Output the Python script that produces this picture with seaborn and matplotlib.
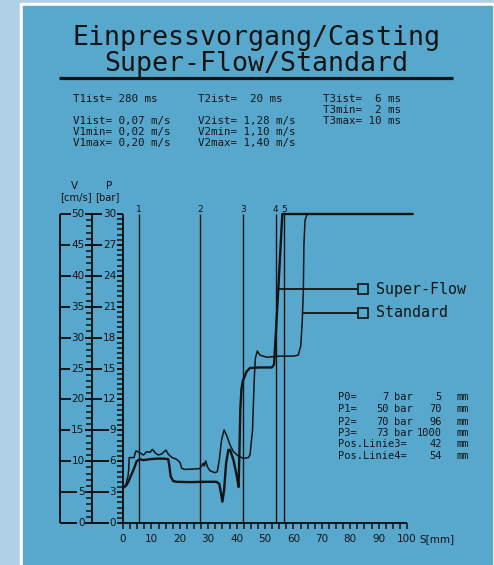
import matplotlib
matplotlib.use("Agg")
import matplotlib.pyplot as plt
import seaborn as sns
import pandas as pd
import numpy as np
from matplotlib.patches import Rectangle

# ---------------- data ----------------
sf_s = [0, 1.0, 1.9, 2.8, 3.6, 4.3, 4.8, 5.9, 7.2, 9.5, 11.9, 14.2, 15.9, 16.3, 16.8, 17.7,
        18.9, 23.6, 28.3, 32.9, 33.9, 34.5, 35.0, 35.6, 36.3, 37.1, 37.7, 38.9, 40.0, 40.7,
        41.0, 41.3, 41.7, 42.2, 42.8, 43.5, 44.7, 48.0, 52.4, 53.2, 54.7, 56.1, 102.0]
sf_p = [3.4, 3.6, 4.0, 4.6, 5.1, 5.6, 6.0, 6.2, 6.1, 6.2, 6.25, 6.25, 6.2, 5.6, 4.5, 4.07,
        4.0, 3.97, 4.0, 4.0, 3.8, 2.9, 2.07, 3.2, 5.8, 7.1, 7.1, 6.1, 4.66, 3.5,
        7.0, 11.0, 13.0, 13.8, 14.2, 14.7, 15.05, 15.1, 15.1, 15.4, 22.8, 30.0, 30.0]

st_s = [0, 1.0, 1.8, 2.0, 2.2, 3.9, 4.3, 4.6, 5.9, 7.2, 8.3, 9.5, 10.4, 11.3, 12.4, 13.6,
        15.1, 15.9, 17.1, 18.9, 20.1, 20.7, 21.8, 24.8, 26.9, 27.7, 28.3, 28.6, 29.1, 29.7,
        30.6, 32.4, 33.2, 33.9, 34.7, 35.6, 36.5, 37.7, 38.9, 40.6, 42.4, 44.1, 44.7, 45.6,
        46.2, 46.6, 47.3, 48.2, 50.6, 55.3, 60.0, 61.7, 62.6, 63.1, 63.5, 63.7, 64.1, 64.8,
        65.5, 102.0]
st_p = [3.4, 3.7, 4.6, 5.2, 6.35, 6.35, 6.8, 7.0, 6.82, 6.6, 6.92, 6.86, 7.15, 6.82, 6.6, 6.7,
        7.08, 6.7, 6.38, 6.18, 5.86, 5.3, 5.2, 5.24, 5.27, 5.53, 5.8, 5.53, 6.02, 5.47,
        5.08, 4.88, 4.98, 6.1, 8.06, 9.03, 8.5, 7.57, 6.92, 6.5, 6.27, 6.35, 6.6, 9.0,
        13.9, 16.0, 16.7, 16.3, 16.1, 16.2, 16.2, 16.3, 17.2, 19.5, 22.6, 27.0, 29.4, 29.95,
        30.0, 30.0]

marker_pos = [5.5, 27.1, 42.3, 53.8, 56.8]
marker_labels = ["1", "2", "3", "4", "5"]
x_ticks = list(range(0, 101, 10))
p_ticks = list(range(0, 31, 3))
v_ticks = list(range(0, 51, 5))
legend_names = ["Super-Flow", "Standard"]
legend_attach_s = [54.7, 63.2]
legend_attach_p = [22.7, 20.4]

title1 = "Einpressvorgang/Casting"
title2 = "Super-Flow/Standard"
params_col1 = ["T1ist= 280 ms", "", "V1ist= 0,07 m/s", "V1min= 0,02 m/s", "V1max= 0,20 m/s"]
params_col2 = ["T2ist=  20 ms", "", "V2ist= 1,28 m/s", "V2min= 1,10 m/s", "V2max= 1,40 m/s"]
params_col3 = ["T3ist=  6 ms", "T3min=  2 ms", "T3max= 10 ms", "", ""]
pos_labels = ["P0=", "P1=", "P2=", "P3=", "Pos.Linie3=", "Pos.Linie4="]
pos_bar = ["7", "50", "70", "73", "", ""]
pos_mm = ["5", "70", "96", "1000", "42", "54"]

# ---------------- style ----------------
BG = "#58a8ce"
LIGHT = "#b0d1e5"
INK = "#141414"
MONO = "DejaVu Sans Mono"
sns.set_style("white")
plt.rcParams["font.family"] = ["DejaVu Sans"]

W, H = 494, 565
fig = plt.figure(figsize=(W / 100, H / 100), dpi=100)
ax = fig.add_axes([0, 0, 1, 1])

# pixel -> data helpers (layout only)
PX0, PXS = 123.0, 2.84
PY0, PYS = 523.0, 10.3
def X(px):
    return (px - PX0) / PXS
def Y(py):
    return (PY0 - py) / PYS

ax.set_xlim(X(0), X(W))
ax.set_ylim(Y(H), Y(0))
ax.axis("off")

# background panels
ax.add_patch(Rectangle((0, 0), 1, 1, transform=ax.transAxes, color=LIGHT, zorder=0))
ax.add_patch(Rectangle((20 / W, 0), 1, 1 - 3 / H, transform=ax.transAxes, color="white", zorder=0))
ax.add_patch(Rectangle((23 / W, 0), (492 - 23) / W, 1 - 6 / H, transform=ax.transAxes, color=BG, zorder=0))

# titles
ax.text(X(256), Y(38), title1, family=MONO, fontsize=19.2, color=INK, ha="center", va="center")
ax.text(X(256.5), Y(64), title2, family=MONO, fontsize=19.2, color=INK, ha="center", va="center")
ax.plot([X(59), X(453)], [Y(77.7), Y(77.7)], color=INK, lw=2.3, solid_capstyle="butt")

# parameter block
rows_py = [99, 110, 120.7, 131.7, 142.7]
for col_px, col in zip([73.3, 198.3, 323.3], [params_col1, params_col2, params_col3]):
    for ry, s in zip(rows_py, col):
        if s:
            ax.text(X(col_px), Y(ry), s, family=MONO, fontsize=7.8, color=INK, va="center", ha="left")

# position block
rows2 = [397.3, 409.3, 421.7, 432.7, 444.3, 455.7]
fs2 = 7.5
for ry, lab, b, m in zip(rows2, pos_labels, pos_bar, pos_mm):
    ax.text(X(338.3), Y(ry), lab, family=MONO, fontsize=fs2, color=INK, va="center", ha="left")
    if b:
        ax.text(X(389), Y(ry), b, family=MONO, fontsize=fs2, color=INK, va="center", ha="right")
        ax.text(X(394), Y(ry), "bar", family=MONO, fontsize=fs2, color=INK, va="center", ha="left")
    ax.text(X(442), Y(ry), m, family=MONO, fontsize=fs2, color=INK, va="center", ha="right")
    ax.text(X(456.7), Y(ry), "mm", family=MONO, fontsize=fs2, color=INK, va="center", ha="left")

# axes scales
lw_ax = 1.4
for px in [60, 92, 123]:
    ax.plot([X(px), X(px)], [0, 30], color=INK, lw=lw_ax, solid_capstyle="butt")
ax.plot([X(60), 100], [0, 0], color=INK, lw=lw_ax, solid_capstyle="butt")
for p in p_ticks:
    ax.plot([X(60), X(123)], [p, p], color=INK, lw=lw_ax, solid_capstyle="butt")
for v in np.arange(0, 50.01, 1.0):
    p = v * 30 / 50
    ax.plot([X(86), X(92)], [p, p], color=INK, lw=1.1, solid_capstyle="butt")
for p in np.arange(0, 30.01, 0.5):
    ax.plot([X(117), X(123)], [p, p], color=INK, lw=1.1, solid_capstyle="butt")
mask = dict(facecolor=BG, edgecolor="none", pad=0.6)
for v, p in zip(v_ticks, p_ticks):
    ax.text(X(84.5), p, str(v), fontsize=7.5, color=INK, ha="right", va="center", bbox=mask)
    ax.text(X(116), p, str(p), fontsize=7.5, color=INK, ha="right", va="center", bbox=mask)
ax.text(X(74), Y(186), "V", fontsize=7.5, color=INK, ha="center", va="center")
ax.text(X(75.6), Y(197), "[cm/s]", fontsize=7.2, color=INK, ha="center", va="center")
ax.text(X(109.3), Y(186), "P", fontsize=7.5, color=INK, ha="center", va="center")
ax.text(X(107.5), Y(197), "[bar]", fontsize=7.2, color=INK, ha="center", va="center")

# x axis ticks
for s in np.arange(0, 100.01, 2.5):
    ax.plot([s, s], [0, Y(528.5)], color=INK, lw=1.1, solid_capstyle="butt")
for s in x_ticks:
    ax.text(s, Y(539), str(s), fontsize=7.5, color=INK, ha="center", va="center")
ax.text(X(419), Y(539), "S[mm]", fontsize=7.5, color=INK, ha="left", va="center")

# marker lines
for s, lab in zip(marker_pos, marker_labels):
    ax.plot([s, s], [0, 30], color=INK, lw=1.0, solid_capstyle="butt")
    ax.text(s, Y(209), lab, fontsize=6.5, color=INK, ha="center", va="center")

# curves
df = pd.concat([
    pd.DataFrame({"S": sf_s, "P": sf_p, "Serie": legend_names[0]}),
    pd.DataFrame({"S": st_s, "P": st_p, "Serie": legend_names[1]}),
])
sns.lineplot(data=df[df.Serie == legend_names[0]], x="S", y="P", sort=False, estimator=None,
             color=INK, lw=1.7, ax=ax, legend=False)
sns.lineplot(data=df[df.Serie == legend_names[1]], x="S", y="P", sort=False, estimator=None,
             color=INK, lw=1.1, ax=ax, legend=False)
ax.axis("off")
ax.set_xlim(X(0), X(W))
ax.set_ylim(Y(H), Y(0))

# legend leaders
for name, sx, sp in zip(legend_names, legend_attach_s, legend_attach_p):
    ax.plot([sx, X(357.3)], [sp, sp], color=INK, lw=1.3, solid_capstyle="butt")
    ax.plot([X(362.5)], [sp], marker="s", markersize=7.0, markerfacecolor="none",
            markeredgecolor=INK, markeredgewidth=1.2)
    ax.text(X(375.7), sp, name, family=MONO, fontsize=10.8, color=INK, ha="left", va="center")

fig.savefig("out.png", dpi=100)
